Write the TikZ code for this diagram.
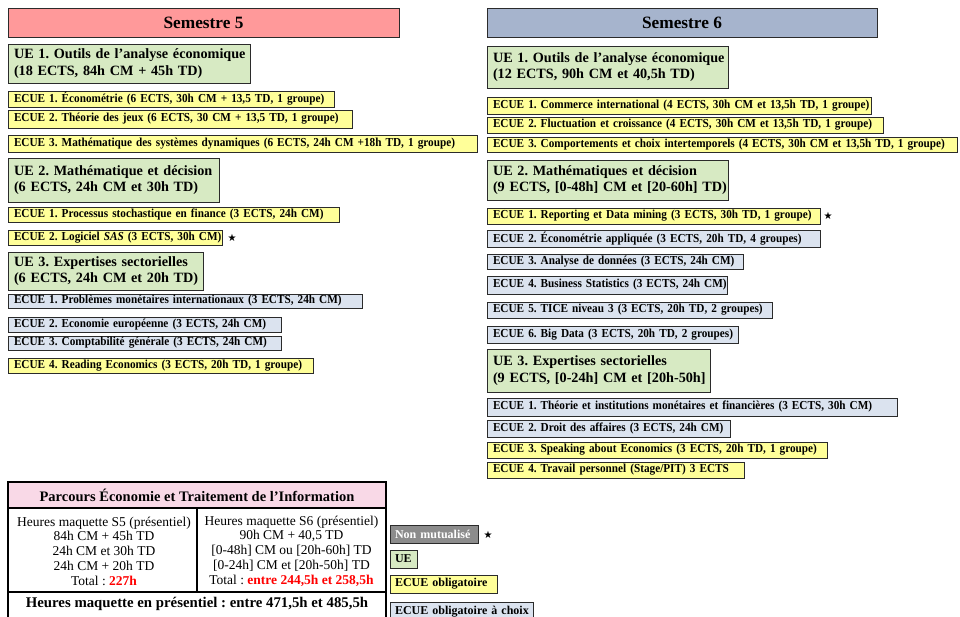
\documentclass[tikz,border=0pt]{standalone}
\usepackage{fontspec}
\setmainfont{Liberation Serif}
\newfontfamily\ecuefam[FakeStretch=0.92]{Liberation Serif}
\newfontfamily\starfont{DejaVu Sans}
\frenchspacing
\definecolor{sfivepink}{HTML}{FF999A}
\definecolor{ssixblue}{HTML}{A6B4CD}
\definecolor{uegreen}{HTML}{D7EAC3}
\definecolor{ecueyel}{HTML}{FFFF99}
\definecolor{ecueblu}{HTML}{DBE3EF}
\definecolor{nmgrey}{HTML}{8C8C8C}
\definecolor{tpink}{HTML}{F9D9E7}
\definecolor{bordc}{HTML}{2B2B2B}
\newcommand\fEcue{\ecuefam\fontsize{12.2}{13.5}\selectfont\bfseries}
\newcommand\fUe{\fontsize{14.2}{16.5}\selectfont\bfseries}
\newcommand\fHead{\fontsize{17.3}{20}\selectfont\bfseries}
\newcommand\fLeg{\fontsize{12}{14}\selectfont\bfseries}
% name, style, x, y, w, h, text
\newcommand\ebox[7]{\node[#2, minimum width=#5pt, minimum height=#6pt, text width=\dimexpr#5pt-12pt\relax] (#1) at (#3,#4) {\mbox{#7}};}
% name, style, x, y, w, h, line1, line2
\newcommand\ubox[8]{\node[#2, minimum width=#5pt, minimum height=#6pt, text width=\dimexpr#5pt-12pt\relax] (#1) at (#3,#4) {\mbox{#7}\\\mbox{#8}};}
\begin{document}
\begin{tikzpicture}[x=1pt,y=-1pt,
  base/.style={draw=bordc, line width=0.9pt, anchor=north west, inner xsep=6pt, inner ysep=0pt, outer sep=0pt, align=left, text=black},
  ecy/.style={base, fill=ecueyel, font=\fEcue},
  ecb/.style={base, fill=ecueblu, font=\fEcue},
  uebox/.style={base, fill=uegreen, font=\fUe},
  head/.style={draw=bordc, line width=0.9pt, anchor=north west, inner sep=0pt, outer sep=0pt, font=\fHead},
  leg/.style={base, inner xsep=5pt, font=\fLeg},
  starmark/.style={font=\starfont\fontsize{10}{12}\selectfont, inner sep=0pt},
  tcell/.style={draw=black, line width=1.8pt, anchor=north west, inner sep=0pt, outer sep=0pt},
  ctext/.style={align=center, font=\fontsize{13.5}{14.8}\selectfont, inner sep=0pt}
]
\useasboundingbox (0,0) rectangle (960,617);
\clip (0,0) rectangle (960,617);

% Semester headers
\node[head, fill=sfivepink, minimum width=391pt, minimum height=29pt] (s5) at (8,8) {Semestre 5};
\node[head, fill=ssixblue, minimum width=390pt, minimum height=29pt] (s6) at (487,8) {Semestre 6};

% Semestre 5
\ubox{lue1}{uebox}{8}{44}{242}{39}{UE 1. Outils de l’analyse économique}{(18 ECTS, 84h CM + 45h TD)}
\ebox{le11}{ecy}{8}{91}{326}{16}{ECUE 1. Économétrie (6 ECTS, 30h CM + 13,5 TD, 1 groupe)}
\ebox{le12}{ecy}{8}{110}{344}{18}{ECUE 2. Théorie des jeux (6 ECTS, 30 CM + 13,5 TD, 1 groupe)}
\ebox{le13}{ecy}{8}{135}{469}{17}{ECUE 3. Mathématique des systèmes dynamiques (6 ECTS, 24h CM +18h TD, 1 groupe)}
\ubox{lue2}{uebox}{8}{158}{211}{44}{UE 2. Mathématique et décision}{(6 ECTS, 24h CM et 30h TD)}
\ebox{le21}{ecy}{8}{207}{331}{15}{ECUE 1. Processus stochastique en finance (3 ECTS, 24h CM)}
\ebox{le22}{ecy}{8}{230}{214}{15}{ECUE 2. Logiciel \textit{SAS} (3 ECTS, 30h CM)}
\node[starmark] (lstar) at (232,238) {★};
\ubox{lue3}{uebox}{8}{252}{195}{38}{UE 3. Expertises sectorielles}{(6 ECTS, 24h CM et 20h TD)}
\ebox{le31}{ecb}{8}{294}{354}{14}{ECUE 1. Problèmes monétaires internationaux (3 ECTS, 24h CM)}
\ebox{le32}{ecb}{8}{317}{273}{15}{ECUE 2. Economie européenne (3 ECTS, 24h CM)}
\ebox{le33}{ecb}{8}{336}{273}{14}{ECUE 3. Comptabilité générale (3 ECTS, 24h CM)}
\ebox{le34}{ecy}{8}{358}{305}{15}{ECUE 4. Reading Economics (3 ECTS, 20h TD, 1 groupe)}

% Semestre 6
\ubox{rue1}{uebox}{487}{46}{241}{42}{UE 1. Outils de l’analyse économique}{(12 ECTS, 90h CM et 40,5h TD)}
\ebox{re11}{ecy}{487}{97}{384}{17}{ECUE 1. Commerce international (4 ECTS, 30h CM et 13,5h TD, 1 groupe)}
\ebox{re12}{ecy}{487}{117}{396}{16}{ECUE 2. Fluctuation et croissance (4 ECTS, 30h CM et 13,5h TD, 1 groupe)}
\ebox{re13}{ecy}{487}{137}{470}{15}{ECUE 3. Comportements et choix intertemporels (4 ECTS, 30h CM et 13,5h TD, 1 groupe)}
\ubox{rue2}{uebox}{487}{160}{241}{40}{UE 2. Mathématiques et décision}{(9 ECTS, [0-48h] CM et [20-60h] TD)}
\ebox{re21}{ecy}{487}{208}{333}{16}{ECUE 1. Reporting et Data mining (3 ECTS, 30h TD, 1 groupe)}
\node[starmark] (rstar) at (828,216) {★};
\ebox{re22}{ecb}{487}{230}{333}{17}{ECUE 2. Économétrie appliquée (3 ECTS, 20h TD, 4 groupes)}
\ebox{re23}{ecb}{487}{254}{256}{15}{ECUE 3. Analyse de données (3 ECTS, 24h CM)}
\ebox{re24}{ecb}{487}{276}{240}{18}{ECUE 4. Business Statistics (3 ECTS, 24h CM)}
\ebox{re25}{ecb}{487}{302}{285}{16}{ECUE 5. TICE niveau 3 (3 ECTS, 20h TD, 2 groupes)}
\ebox{re26}{ecb}{487}{326}{251}{17}{ECUE 6. Big Data (3 ECTS, 20h TD, 2 groupes)}
\ubox{rue3}{uebox}{487}{349}{223}{43}{UE 3. Expertises sectorielles}{(9 ECTS, [0-24h] CM et [20h-50h]}
\ebox{re31}{ecb}{487}{398}{410}{18}{ECUE 1. Théorie et institutions monétaires et financières (3 ECTS, 30h CM)}
\ebox{re32}{ecb}{487}{420}{243}{17}{ECUE 2. Droit des affaires (3 ECTS, 24h CM)}
\ebox{re33}{ecy}{487}{442}{340}{16}{ECUE 3. Speaking about Economics (3 ECTS, 20h TD, 1 groupe)}
\ebox{re34}{ecy}{487}{462}{257}{16}{ECUE 4. Travail personnel (Stage/PIT) 3 ECTS}

% Table
\node[tcell, fill=tpink, minimum width=378pt, minimum height=26pt, font=\fontsize{14.5}{16}\selectfont\bfseries] (thead) at (8,482) {Parcours Économie et Traitement de l’Information};
\node[tcell, minimum width=189pt, minimum height=84pt] (tcl) at (8,508) {};
\node[tcell, minimum width=189pt, minimum height=84pt] (tcr) at (197,508) {};
\node[tcell, minimum width=378pt, minimum height=50pt] (tfoot) at (8,592) {};
\node[ctext] (tcltext) at (104,551) {Heures maquette S5 (présentiel)\\84h CM + 45h TD\\24h CM et 30h TD\\24h CM + 20h TD\\Total : \textcolor{red}{\textbf{227h}}};
\node[ctext] (tcrtext) at (291.5,551) {Heures maquette S6 (présentiel)\\90h CM + 40,5 TD\\{[0-48h]} CM ou [20h-60h] TD\\{[0-24h]} CM et [20h-50h] TD\\Total : \textcolor{red}{\textbf{entre 244,5h et 258,5h}}};
\node[inner sep=0pt, font=\fontsize{14.8}{16}\selectfont\bfseries] (tfoottext) at (197,604) {Heures maquette en présentiel : entre 471,5h et 485,5h};

% Legend
\node[leg, fill=nmgrey, text=white, minimum width=88pt, minimum height=18pt, text width=78pt] (lnm) at (390,525) {\mbox{Non mutualisé}};
\node[starmark] (legstar) at (488,535) {★};
\node[leg, fill=uegreen, minimum width=27pt, minimum height=18pt, text width=17pt] (lue) at (390,550) {\mbox{UE}};
\node[leg, fill=ecueyel, minimum width=107pt, minimum height=18pt, text width=97pt] (lob) at (390,575) {\mbox{ECUE obligatoire}};
\node[leg, fill=ecueblu, minimum width=143pt, minimum height=20pt, text width=133pt] (lch) at (390,602) {\mbox{ECUE obligatoire à choix}};
\end{tikzpicture}
\end{document}
